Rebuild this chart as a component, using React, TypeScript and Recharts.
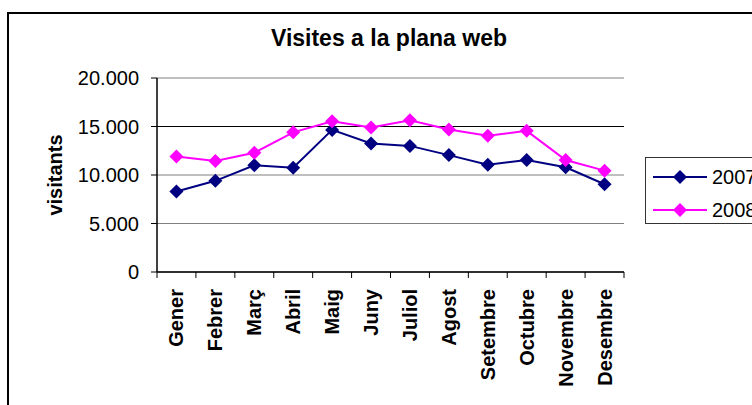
import { LineChart, Line, XAxis, YAxis, CartesianGrid, ReferenceLine } from "recharts";

const months = ["Gener", "Febrer", "Març", "Abril", "Maig", "Juny", "Juliol", "Agost", "Setembre", "Octubre", "Novembre", "Desembre"];
const visits2007 = [8300, 9400, 11000, 10750, 14650, 13250, 13000, 12050, 11050, 11550, 10800, 9050];
const visits2008 = [11900, 11450, 12300, 14400, 15550, 14900, 15650, 14700, 14050, 14550, 11550, 10450];
const yTicks = [0, 5000, 10000, 15000, 20000];
const seriesNames = ["2007", "2008"];

const NAVY = "#000080";
const MAGENTA = "#FF00FF";
const FONT = "'Liberation Sans', Arial, sans-serif";

const W = 752;
const H = 405;
const LEFT = 157;
const RIGHT = 128;
const TOP = 78;
const X_AXIS_H = 133;
const BAND = (W - LEFT - RIGHT) / months.length;

const data = months.map((m, i) => ({ month: m, y2007: visits2007[i], y2008: visits2008[i] }));

const fmt = (v: number) => (v === 0 ? "0" : `${Math.floor(v / 1000)}.${String(v % 1000).padStart(3, "0")}`);

function Diamond({ cx, cy, fill, r = 7 }: any) {
  if (cx == null || cy == null) return null;
  return <polygon points={`${cx},${cy - r} ${cx + r},${cy} ${cx},${cy + r} ${cx - r},${cy}`} fill={fill} />;
}

function MonthTick({ x, y, payload, index }: any) {
  const last = index === months.length - 1;
  return (
    <g transform={`translate(${x},${y})`}>
      <line x1={-BAND / 2} y1={-6} x2={-BAND / 2} y2={0} stroke="#000" />
      {last && <line x1={BAND / 2} y1={-6} x2={BAND / 2} y2={0} stroke="#000" />}
      <text
        transform="rotate(-90)"
        x={-11}
        y={0}
        dy={7}
        textAnchor="end"
        fill="#000"
        fontSize={20}
        fontWeight="bold"
        fontFamily={FONT}
      >
        {payload.value}
      </text>
    </g>
  );
}

function LegendBox() {
  const colors = [NAVY, MAGENTA];
  return (
    <div
      style={{
        position: "absolute",
        left: 645,
        top: 157,
        width: 130,
        height: 65,
        border: "1px solid #333",
        background: "#fff",
        fontFamily: FONT,
        fontSize: 20,
      }}
    >
      {seriesNames.map((name, i) => (
        <div key={name} style={{ position: "absolute", left: 6, top: 6 + i * 33, height: 26, display: "flex", alignItems: "center" }}>
          <svg width={56} height={20}>
            <line x1={1} y1={10} x2={55} y2={10} stroke={colors[i]} strokeWidth={2} />
            <Diamond cx={28} cy={10} fill={colors[i]} />
          </svg>
          <span style={{ marginLeft: 4, lineHeight: "20px" }}>{name}</span>
        </div>
      ))}
    </div>
  );
}

export default function App() {
  return (
    <div style={{ position: "relative", width: W, height: H, overflow: "hidden", background: "#fff" }}>
      <style>{"body{margin:0}"}</style>
      <div
        style={{
          position: "absolute",
          left: 7,
          top: 12,
          width: 900,
          height: 600,
          border: "2px solid #000",
          boxSizing: "border-box",
        }}
      />
      <div
        style={{
          position: "absolute",
          left: 0,
          width: 778,
          top: 27,
          textAlign: "center",
          fontFamily: FONT,
          fontWeight: "bold",
          fontSize: 23,
          lineHeight: "23px",
        }}
      >
        Visites a la plana web
      </div>
      <div style={{ position: "absolute", left: 0, top: 0 }}>
        <LineChart width={W} height={H} data={data} margin={{ top: TOP, right: RIGHT, left: 0, bottom: 0 }}>
          <CartesianGrid vertical={false} stroke="#808080" />
          <ReferenceLine y={15000} stroke="#000" />
          <XAxis
            dataKey="month"
            height={X_AXIS_H}
            interval={0}
            padding={{ left: BAND / 2, right: BAND / 2 }}
            tickLine={false}
            tickSize={6}
            tickMargin={0}
            axisLine={{ stroke: "#000", strokeWidth: 1.5 }}
            tick={<MonthTick />}
          />
          <YAxis
            width={LEFT}
            domain={[0, 20000]}
            ticks={yTicks}
            interval={0}
            tickFormatter={fmt}
            tickSize={6}
            tickMargin={12}
            tick={{ fill: "#000", fontSize: 20, fontFamily: FONT }}
            tickLine={{ stroke: "#000" }}
            axisLine={{ stroke: "#000", strokeWidth: 1.5 }}
            label={{
              value: "visitants",
              content: ({ viewBox }: any) => {
                const cx = 62;
                const cy = viewBox.y + viewBox.height / 2;
                return (
                  <text
                    x={cx}
                    y={cy}
                    transform={`rotate(-90, ${cx}, ${cy})`}
                    textAnchor="middle"
                    fill="#000"
                    fontSize={20}
                    fontWeight="bold"
                    fontFamily={FONT}
                  >
                    visitants
                  </text>
                );
              },
            }}
          />
          <YAxis
            yAxisId="right"
            orientation="right"
            width={0}
            domain={[0, 20000]}
            tick={false}
            tickLine={false}
            axisLine={{ stroke: "#808080" }}
          />
          <Line
            type="linear"
            dataKey="y2007"
            name={seriesNames[0]}
            stroke={NAVY}
            strokeWidth={2}
            isAnimationActive={false}
            dot={(p: any) => <Diamond key={`a${p.index}`} cx={p.cx} cy={p.cy} fill={NAVY} />}
            activeDot={false}
          />
          <Line
            type="linear"
            dataKey="y2008"
            name={seriesNames[1]}
            stroke={MAGENTA}
            strokeWidth={2}
            isAnimationActive={false}
            dot={(p: any) => <Diamond key={`b${p.index}`} cx={p.cx} cy={p.cy} fill={MAGENTA} />}
            activeDot={false}
          />
        </LineChart>
      </div>
      <LegendBox />
    </div>
  );
}
